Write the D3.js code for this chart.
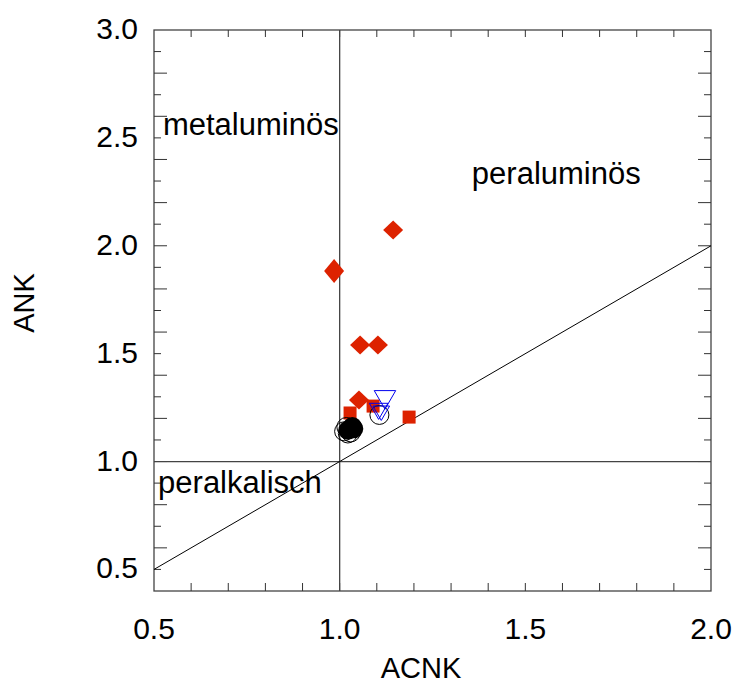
<!DOCTYPE html>
<html>
<head>
<meta charset="utf-8">
<script src="https://cdn.jsdelivr.net/npm/d3@7"></script>
<style>
  body { margin: 0; background: white; }
  text { font-family: "Liberation Sans", Arial, sans-serif; fill: black; }
</style>
</head>
<body>
<svg></svg>
<script>
// sample values (ACNK, ANK)
const redDiamonds = [
  [1.144, 2.073], [0.985, 1.883], [1.055, 1.54], [1.103, 1.54], [1.052, 1.285]
];
const redSquares = [
  [1.028, 1.225], [1.09, 1.257], [1.187, 1.206]
];
const blueTriangles = [
  [1.122, 1.30], [1.105, 1.245], [1.112, 1.235]
];
const blackOpen = [
  [1.107, 1.216], [1.012, 1.14], [1.018, 1.16], [1.03, 1.135], [1.022, 1.13]
];
const blackFilled = [
  [1.022, 1.145], [1.034, 1.162], [1.028, 1.15], [1.038, 1.152]
];
const xTickLabels = [0.5, 1.0, 1.5, 2.0];
const yTickLabels = [0.5, 1.0, 1.5, 2.0, 2.5, 3.0];
const fieldNames = [
  { name: 'metaluminös', x: 0.524, y: 2.513 },
  { name: 'peraluminös', x: 1.356, y: 2.286 },
  { name: 'peralkalisch', x: 0.511, y: 0.854 }
];

const width = 733, height = 684;
const pLeft = 154, pRight = 711, pTop = 30, pBottom = 591;

const svg = d3.select('svg').attr('width', width).attr('height', height);

const x = d3.scaleLinear().domain([0.5, 2.0]).range([pLeft, pRight]);
const y = d3.scaleLinear().domain([0.4, 3.0]).range([pBottom, pTop]);

// frame
svg.append('rect')
  .attr('x', pLeft).attr('y', pTop)
  .attr('width', pRight - pLeft).attr('height', pBottom - pTop)
  .style('fill', 'none').style('stroke', '#444').style('stroke-width', 1.3);

// ticks: x every 0.1, y every 0.1 with longer ticks on even tenths
const xt = d3.range(6, 20).map(d => d / 10);
const yt = d3.range(5, 30).map(d => d / 10);
xt.forEach(v => {
  svg.append('line').attr('x1', x(v)).attr('x2', x(v)).attr('y1', pBottom).attr('y2', pBottom - 8)
    .style('stroke', '#333');
  svg.append('line').attr('x1', x(v)).attr('x2', x(v)).attr('y1', pTop).attr('y2', pTop + 7)
    .style('stroke', '#333');
});
yt.forEach(v => {
  const len = Math.round(v * 10) % 2 == 0 ? 13 : 7;
  svg.append('line').attr('x1', pLeft).attr('x2', pLeft + len).attr('y1', y(v)).attr('y2', y(v))
    .style('stroke', '#333');
  svg.append('line').attr('x1', pRight).attr('x2', pRight - len).attr('y1', y(v)).attr('y2', y(v))
    .style('stroke', '#333');
});

// tick labels
xTickLabels.forEach(v => {
  svg.append('text').attr('x', x(v)).attr('y', 639)
    .attr('text-anchor', 'middle').style('font-size', '30px')
    .text(v.toFixed(1));
});
yTickLabels.forEach(v => {
  svg.append('text').attr('x', 138).attr('y', y(v) + 9)
    .attr('text-anchor', 'end').style('font-size', '30px')
    .text(v.toFixed(1));
});

// axis titles
svg.append('text').attr('x', 421).attr('y', 678)
  .attr('text-anchor', 'middle').style('font-size', '29px').text('ACNK');
svg.append('text').attr('transform', 'translate(34,303) rotate(-90)')
  .attr('text-anchor', 'middle').style('font-size', '29px').text('ANK');

// reference lines
svg.append('clipPath').attr('id', 'plot')
  .append('rect').attr('x', pLeft).attr('y', pTop).attr('width', pRight - pLeft).attr('height', pBottom - pTop);
const g = svg.append('g').attr('clip-path', 'url(#plot)');
g.append('line').attr('x1', x(1)).attr('x2', x(1)).attr('y1', y(0.4)).attr('y2', y(3.0))
  .style('stroke', '#444').style('stroke-width', 1.3);
g.append('line').attr('x1', x(0.5)).attr('x2', x(2.0)).attr('y1', y(1)).attr('y2', y(1))
  .style('stroke', '#444').style('stroke-width', 1.3);
g.append('line').attr('x1', x(0.5)).attr('x2', x(2.0)).attr('y1', y(0.5)).attr('y2', y(2.0))
  .style('stroke', 'black').style('stroke-width', 1);

// field names
fieldNames.forEach(f => {
  svg.append('text').attr('x', x(f.x)).attr('y', y(f.y))
    .style('font-size', '31px').text(f.name);
});

// symbols
const red = '#dd2200';
g.selectAll('.sq').data(redSquares).enter().append('rect')
  .attr('x', d => x(d[0]) - 6.5).attr('y', d => y(d[1]) - 6.5)
  .attr('width', 13).attr('height', 13)
  .style('fill', red);

g.selectAll('.open').data(blackOpen).enter().append('circle')
  .attr('cx', d => x(d[0])).attr('cy', d => y(d[1])).attr('r', 9.5)
  .style('fill', 'none').style('stroke', 'black');

g.selectAll('.filled').data(blackFilled).enter().append('circle')
  .attr('cx', d => x(d[0])).attr('cy', d => y(d[1])).attr('r', 9.5)
  .style('fill', 'black');

const tri = d3.symbol().type(d3.symbolTriangle);
const triSizes = [200, 150, 120];
g.selectAll('.tri').data(blueTriangles).enter().append('path')
  .attr('d', (d, i) => tri.size(triSizes[i])())
  .attr('transform', d => `translate(${x(d[0])},${y(d[1])}) rotate(180)`)
  .style('fill', 'none').style('stroke', '#0000ee').style('stroke-width', 1);

g.selectAll('.dia').data(redDiamonds).enter().append('path')
  .attr('d', (d, i) => {
    const w = 10, h = i == 1 ? 12 : 9.5;
    return `M0,${-h}L${w},0L0,${h}L${-w},0Z`;
  })
  .attr('transform', d => `translate(${x(d[0])},${y(d[1])})`)
  .style('fill', red);
</script>
</body>
</html>
